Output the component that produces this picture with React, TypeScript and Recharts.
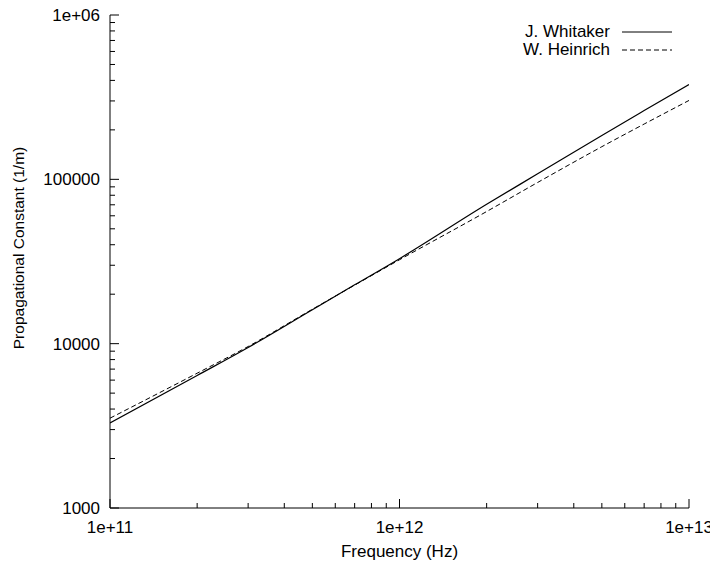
import { LineChart, Line, XAxis, YAxis } from "recharts";

// frequency (Hz) and propagation constant (1/m)
const frequency = [1e11, 2e11, 3e11, 5e11, 7e11, 1e12, 2e12, 3e12, 5e12, 7e12, 1e13];
const whitaker = [3290, 6400, 9480, 16100, 22800, 32900, 70500, 108000, 185000, 262000, 378000];
const heinrich = [3520, 6610, 9610, 16200, 22700, 32400, 63700, 95700, 158000, 217000, 302000];

const xMajor = [1e11, 1e12, 1e13];
const xMajorLabels = ["1e+11", "1e+12", "1e+13"];
const yMajor = [1000, 10000, 100000, 1000000];
const yMajorLabels = ["1000", "10000", "100000", "1e+06"];
const minorSteps = [2, 3, 4, 5, 6, 7, 8, 9];

const xTicks = [
  ...xMajor,
  ...xMajor.slice(0, -1).flatMap((d) => minorSteps.map((m) => d * m)),
];
const yTicks = [
  ...yMajor,
  ...yMajor.slice(0, -1).flatMap((d) => minorSteps.map((m) => d * m)),
];

const data = frequency.map((f, i) => ({
  f,
  whitaker: whitaker[i],
  heinrich: heinrich[i],
}));

const FONT = "'Liberation Sans', Arial, Helvetica, sans-serif";
const MAJOR = 9;
const MINOR = 5;
const TOP = 15; // plot top inside the svg (the wrapper is pulled up by the body margin)

const isMajor = (v: number, list: number[]) =>
  list.some((m) => Math.abs(m - v) / m < 1e-9);

const labelOf = (v: number, list: number[], labels: string[]) => {
  const i = list.findIndex((m) => Math.abs(m - v) / m < 1e-9);
  return i >= 0 ? labels[i] : "";
};

const BottomTick = (props: any) => {
  const { x, y, payload } = props;
  const major = isMajor(payload.value, xMajor);
  return (
    <g>
      <line x1={x} x2={x} y1={y} y2={y - (major ? MAJOR : MINOR)} stroke="#000" />
      {major && (
        <text x={x} y={y + 25} textAnchor="middle" fontSize={17} fontFamily={FONT} fill="#000">
          {labelOf(payload.value, xMajor, xMajorLabels)}
        </text>
      )}
    </g>
  );
};

const TopTick = (props: any) => {
  const { x, y, payload } = props;
  const major = isMajor(payload.value, xMajor);
  return <line x1={x} x2={x} y1={y} y2={y + (major ? MAJOR : MINOR)} stroke="#000" />;
};

const LeftTick = (props: any) => {
  const { x, y, payload } = props;
  const major = isMajor(payload.value, yMajor);
  return (
    <g>
      <line x1={x} x2={x + (major ? MAJOR : MINOR)} y1={y} y2={y} stroke="#000" />
      {major && (
        <text x={x - 10} y={y + 6} textAnchor="end" fontSize={17} fontFamily={FONT} fill="#000">
          {labelOf(payload.value, yMajor, yMajorLabels)}
        </text>
      )}
    </g>
  );
};

const RightTick = (props: any) => {
  const { x, y, payload } = props;
  const major = isMajor(payload.value, yMajor);
  return <line x1={x} x2={x - (major ? MAJOR : MINOR)} y1={y} y2={y} stroke="#000" />;
};

const YTitle = () => {
  const cx = 10;
  const cy = 248;
  return (
    <text
      x={cx}
      y={cy}
      transform={`rotate(-90, ${cx}, ${cy})`}
      textAnchor="middle"
      dominantBaseline="central"
      fontSize={15.5}
      fontFamily={FONT}
      fill="#000"
    >
      Propagational Constant (1/m)
    </text>
  );
};

const XTitle = (props: any) => {
  const vb = props.viewBox || { x: 102, width: 579 };
  return (
    <text
      x={vb.x + vb.width / 2}
      y={557}
      textAnchor="middle"
      fontSize={17}
      fontFamily={FONT}
      fill="#000"
    >
      Frequency (Hz)
    </text>
  );
};

const legendItems = [
  { name: "J. Whitaker", dash: undefined },
  { name: "W. Heinrich", dash: "5 3" },
];

export default function App() {
  return (
    <div style={{ position: "relative", width: 710, height: 561, marginTop: -8, background: "#fff" }}>
      <LineChart width={710} height={561} data={data} margin={{ top: TOP, right: 29, bottom: 0, left: 0 }}>
        <XAxis
          dataKey="f"
          type="number"
          scale="log"
          domain={[1e11, 1e13]}
          allowDataOverflow
          ticks={xTicks}
          interval={0}
          height={53}
          tickSize={0}
          tickMargin={0}
          tick={<BottomTick />}
          axisLine={{ stroke: "#000" }}
          label={<XTitle />}
        />
        <XAxis
          xAxisId="top"
          dataKey="f"
          type="number"
          scale="log"
          orientation="top"
          domain={[1e11, 1e13]}
          allowDataOverflow
          ticks={xTicks}
          interval={0}
          height={0}
          tickSize={0}
          tickMargin={0}
          tick={<TopTick />}
          axisLine={{ stroke: "#000" }}
        />
        <YAxis
          type="number"
          scale="log"
          domain={[1000, 1000000]}
          allowDataOverflow
          ticks={yTicks}
          interval={0}
          width={102}
          tickSize={0}
          tickMargin={0}
          tick={<LeftTick />}
          axisLine={{ stroke: "#000" }}
          label={<YTitle />}
        />
        <YAxis
          yAxisId="right"
          type="number"
          scale="log"
          orientation="right"
          domain={[1000, 1000000]}
          allowDataOverflow
          ticks={yTicks}
          interval={0}
          width={0}
          tickSize={0}
          tickMargin={0}
          tick={<RightTick />}
          axisLine={{ stroke: "#000" }}
        />
        <Line
          dataKey="whitaker"
          name="J. Whitaker"
          type="monotone"
          stroke="#000"
          strokeWidth={1.2}
          dot={false}
          isAnimationActive={false}
        />
        <Line
          dataKey="heinrich"
          name="W. Heinrich"
          type="monotone"
          stroke="#000"
          strokeWidth={1}
          strokeDasharray="5 3"
          dot={false}
          isAnimationActive={false}
        />
      </LineChart>
      <div style={{ position: "absolute", top: 23, right: 46, fontFamily: FONT, fontSize: 17 }}>
        {legendItems.map((item) => (
          <div key={item.name} style={{ display: "flex", alignItems: "center", justifyContent: "flex-end", height: 18 }}>
            <span style={{ marginRight: 12 }}>{item.name}</span>
            <svg width={50} height={4}>
              <line x1={0} x2={50} y1={2} y2={2} stroke="#000" strokeDasharray={item.dash} />
            </svg>
          </div>
        ))}
      </div>
    </div>
  );
}
